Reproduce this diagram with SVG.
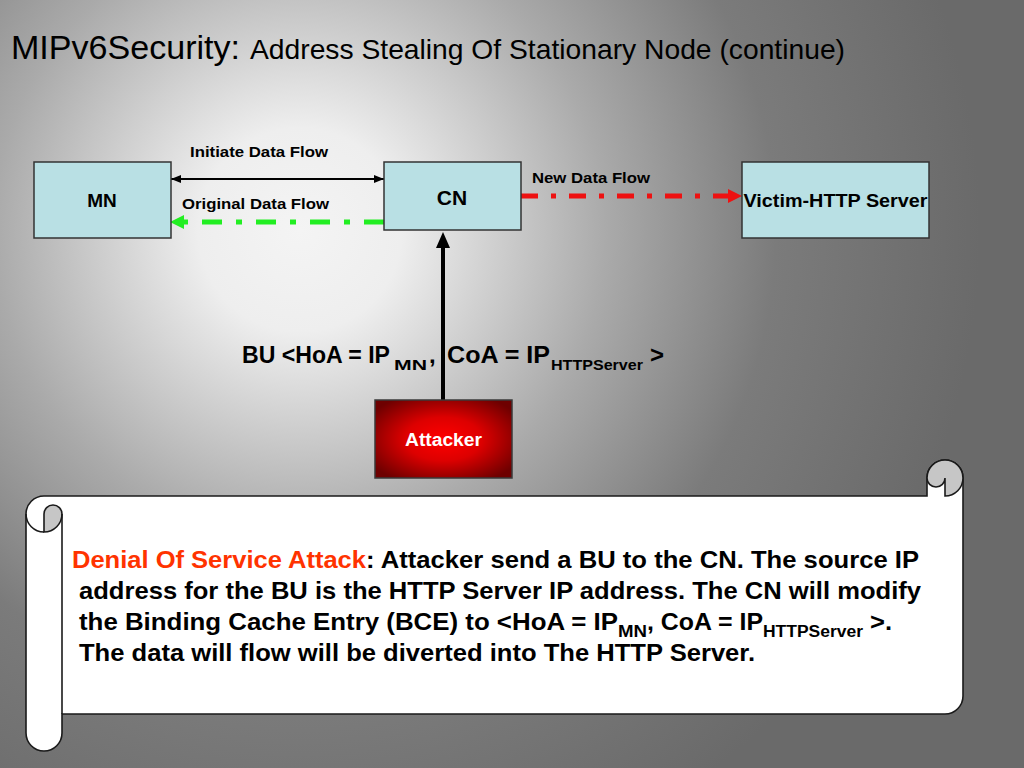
<svg xmlns="http://www.w3.org/2000/svg" width="1024" height="768" viewBox="0 0 1024 768">
  <defs>
    <radialGradient id="bg" gradientUnits="userSpaceOnUse" cx="300" cy="230" r="680">
      <stop offset="0" stop-color="#f4f4f4"/>
      <stop offset="0.15" stop-color="#eeeeee"/>
      <stop offset="0.45" stop-color="#aaaaaa"/>
      <stop offset="0.7" stop-color="#7b7b7b"/>
      <stop offset="1" stop-color="#6a6a6a"/>
    </radialGradient>
    <radialGradient id="redGrad" cx="0.5" cy="0.5" r="0.62">
      <stop offset="0" stop-color="#ff0000"/>
      <stop offset="0.45" stop-color="#dd0000"/>
      <stop offset="1" stop-color="#6e0000"/>
    </radialGradient>
    <marker id="hBlackSmall" markerUnits="userSpaceOnUse" viewBox="0 0 10 8" refX="10" refY="4" markerWidth="10" markerHeight="8" orient="auto-start-reverse">
      <path d="M0,0 L10,4 L0,8 Z" fill="#000"/>
    </marker>
    <marker id="hGreen" markerUnits="userSpaceOnUse" viewBox="0 0 14 14" refX="0" refY="7" markerWidth="14" markerHeight="14" orient="auto">
      <path d="M0,0 L14,7 L0,14 Z" fill="#22ee22"/>
    </marker>
    <marker id="hRed" markerUnits="userSpaceOnUse" viewBox="0 0 14 14" refX="0" refY="7" markerWidth="14" markerHeight="14" orient="auto">
      <path d="M0,0 L14,7 L0,14 Z" fill="#ee1111"/>
    </marker>
    <marker id="hBlackBig" markerUnits="userSpaceOnUse" viewBox="0 0 16 14" refX="0" refY="7" markerWidth="16" markerHeight="14" orient="auto">
      <path d="M0,0 L16,7 L0,14 Z" fill="#000"/>
    </marker>
  </defs>
  <style>
    text { font-family: "Liberation Sans", Arial, Helvetica, sans-serif; }
    .b { font-weight: bold; }
    .node rect { fill: #b9e0e4; stroke: #333333; stroke-width: 1.5; }
    .lbl { font-size: 15px; font-weight: bold; fill: #000; }
    .scroll { fill: #ffffff; stroke: #1a1a1a; stroke-width: 1.6; }
    .curl { fill: #c6c6c6; stroke: #1a1a1a; stroke-width: 1.6; }
    .st { font-size: 24px; font-weight: bold; fill: #000; }
    .sub { font-size: 16px; font-weight: bold; fill: #000; }
  </style>

  <rect x="0" y="0" width="1024" height="768" fill="url(#bg)"/>

  <!-- Title -->
  <g id="title">
    <text x="11" y="59" font-size="34" fill="#000" textLength="229" lengthAdjust="spacingAndGlyphs">MIPv6Security:</text>
    <text x="250" y="59" font-size="28" fill="#000" textLength="595" lengthAdjust="spacingAndGlyphs">Address Stealing Of Stationary Node (continue)</text>
  </g>

  <!-- Connectors -->
  <g id="connectors">
    <line x1="171" y1="179" x2="384" y2="179" stroke="#000" stroke-width="2.2" marker-start="url(#hBlackSmall)" marker-end="url(#hBlackSmall)"/>
    <line x1="384" y1="222" x2="184" y2="222" stroke="#22ee22" stroke-width="5" stroke-dasharray="20 14 6 14" marker-end="url(#hGreen)"/>
    <line x1="521" y1="196" x2="728" y2="196" stroke="#ee1111" stroke-width="5" stroke-dasharray="17 13 5 13" marker-end="url(#hRed)"/>
    <line x1="443" y1="400" x2="443" y2="248" stroke="#000" stroke-width="4" marker-end="url(#hBlackBig)"/>
  </g>

  <!-- Connector labels -->
  <g id="labels">
    <text class="lbl" x="190" y="157" textLength="138" lengthAdjust="spacingAndGlyphs">Initiate Data Flow</text>
    <text class="lbl" x="182" y="209" textLength="147" lengthAdjust="spacingAndGlyphs">Original Data Flow</text>
    <text class="lbl" x="532" y="183" textLength="118" lengthAdjust="spacingAndGlyphs">New Data Flow</text>
    <g id="bu-label" class="b">
      <text x="242" y="363" font-size="24" textLength="148" lengthAdjust="spacingAndGlyphs">BU &lt;HoA = IP</text>
      <text x="394" y="370" font-size="15" textLength="33" lengthAdjust="spacingAndGlyphs">MN</text>
      <text x="429" y="363" font-size="24">,</text>
      <text x="447" y="363" font-size="24" textLength="103" lengthAdjust="spacingAndGlyphs">CoA = IP</text>
      <text x="551" y="370" font-size="15" textLength="92" lengthAdjust="spacingAndGlyphs">HTTPServer</text>
      <text x="650" y="363" font-size="24">&gt;</text>
    </g>
  </g>

  <!-- Nodes -->
  <g id="node-mn" class="node">
    <rect x="34" y="162" width="137" height="76"/>
    <text class="b" x="102" y="207" font-size="19" text-anchor="middle">MN</text>
  </g>
  <g id="node-cn" class="node">
    <rect x="384" y="162" width="137" height="68"/>
    <text class="b" x="452" y="205" font-size="21" text-anchor="middle">CN</text>
  </g>
  <g id="node-victim" class="node">
    <rect x="742" y="162" width="187" height="76"/>
    <text class="b" x="835.5" y="207" font-size="18" text-anchor="middle" textLength="184" lengthAdjust="spacingAndGlyphs">Victim-HTTP Server</text>
  </g>
  <g id="node-attacker">
    <rect x="375" y="400" width="137" height="78" fill="url(#redGrad)" stroke="#3a3a3a" stroke-width="1.5"/>
    <text class="b" x="443.5" y="446" font-size="18" fill="#ffffff" text-anchor="middle" textLength="77" lengthAdjust="spacingAndGlyphs">Attacker</text>
  </g>

  <!-- Scroll -->
  <g id="scroll">
    <path class="scroll" d="M44 496 L927 496 L927 478 A18 18 0 0 1 963 478 L963 696 A18 18 0 0 1 945 714 L62 714 L62 733 A18 18 0 0 1 26 733 L26 514 A18 18 0 0 1 44 496 Z"/>
    <path fill="none" stroke="#1a1a1a" stroke-width="1.6" d="M26 514 A18 18 0 0 0 44 532"/>
    <path class="curl" d="M44 514 A9 9 0 0 1 62 514 A18 18 0 0 1 44 532 Z"/>
    <line x1="62" y1="514" x2="62" y2="714" stroke="#1a1a1a" stroke-width="1.6"/>
    <path class="curl" d="M927 478 A9 9 0 0 0 945 478 L945 496 A18 18 0 0 0 963 478 A18 18 0 0 0 927 478 Z"/>

    <g id="scroll-text" xml:space="preserve">
      <text x="72" y="568" font-size="24" font-weight="bold" fill="#ff3300" textLength="294" lengthAdjust="spacingAndGlyphs">Denial Of Service Attack</text>
      <text class="st" x="366" y="568" textLength="553" lengthAdjust="spacingAndGlyphs">: Attacker send a BU to the CN. The source IP</text>
      <text class="st" x="79" y="599" textLength="842" lengthAdjust="spacingAndGlyphs">address for the BU is the HTTP Server IP address. The CN will modify</text>
      <text class="st" x="79" y="630" textLength="539" lengthAdjust="spacingAndGlyphs">the  Binding Cache Entry (BCE) to &lt;HoA = IP</text>
      <text class="sub" x="618" y="637" textLength="29" lengthAdjust="spacingAndGlyphs">MN</text>
      <text class="st" x="647" y="630" textLength="116" lengthAdjust="spacingAndGlyphs">, CoA = IP</text>
      <text class="sub" x="763" y="637" textLength="100" lengthAdjust="spacingAndGlyphs">HTTPServer</text>
      <text class="st" x="870" y="630" textLength="22" lengthAdjust="spacingAndGlyphs">&gt;.</text>
      <text class="st" x="79" y="661" textLength="676" lengthAdjust="spacingAndGlyphs">The data will flow will be diverted into The HTTP Server.</text>
    </g>
  </g>
</svg>
